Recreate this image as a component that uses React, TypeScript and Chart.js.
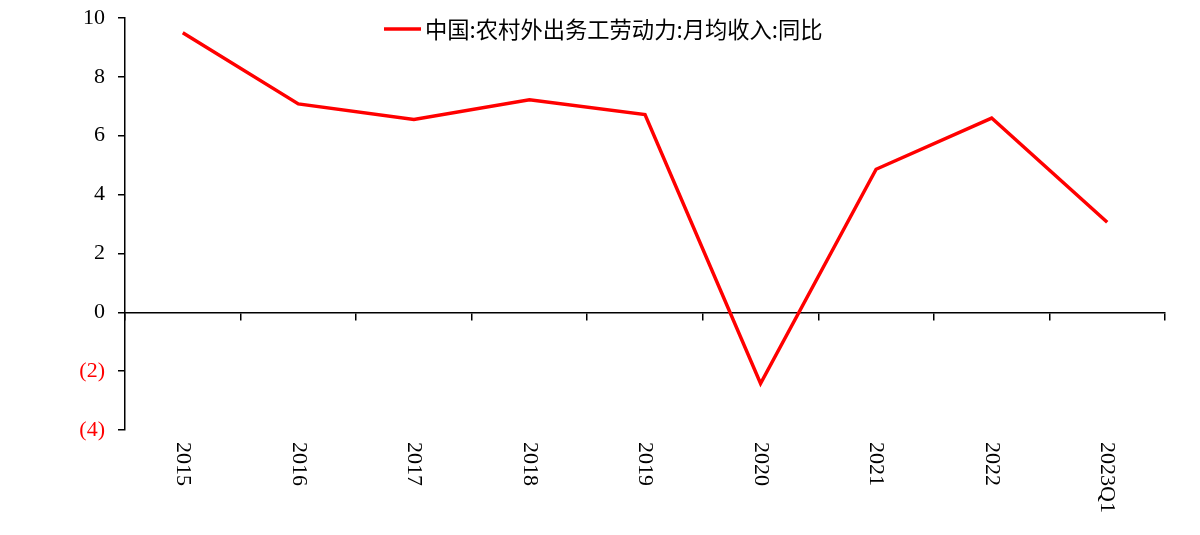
import { useEffect, useRef } from "react"
import { Chart, registerables } from "chart.js"

Chart.register(...registerables)

const categories = ["2015", "2016", "2017", "2018", "2019", "2020", "2021", "2022", "2023Q1"]
const incomeYoY = [9.5, 7.08, 6.55, 7.22, 6.72, -2.42, 4.86, 6.6, 3.06]
const seriesName = "中国:农村外出务工劳动力:月均收入:同比"

const serif = "'Liberation Serif', 'Times New Roman', serif"
const sans = "'Noto Sans CJK SC', 'Noto Sans', sans-serif"

// rotated category labels (read top-to-bottom) and the legend drawn inside the plot
const overlayPlugin = {
  id: "overlay",
  afterDraw(chart) {
    const { ctx, chartArea, scales } = chart
    const x = scales.x
    ctx.save()
    ctx.fillStyle = "#000"
    ctx.font = `22px ${serif}`
    ctx.textAlign = "left"
    ctx.textBaseline = "middle"
    categories.forEach((label, i) => {
      ctx.save()
      ctx.translate(x.getPixelForValue(i), chartArea.bottom + 12)
      ctx.rotate(Math.PI / 2)
      ctx.fillText(label, 0, 0)
      ctx.restore()
    })

    // legend
    const ly = 29
    ctx.strokeStyle = "#ff0000"
    ctx.lineWidth = 3.5
    ctx.beginPath()
    ctx.moveTo(384, ly)
    ctx.lineTo(421, ly)
    ctx.stroke()
    ctx.font = `22.3px ${sans}`
    ctx.fillStyle = "#000"
    ctx.fillText(seriesName, 425, ly + 1)
    ctx.restore()
  },
}

export default function App() {
  const chartRef = useRef(null)
  const chartInstance = useRef(null)

  useEffect(() => {
    if (chartRef.current) {
      if (chartInstance.current) {
        chartInstance.current.destroy()
      }

      const ctx = chartRef.current.getContext("2d")

      chartInstance.current = new Chart(ctx, {
        type: "line",
        data: {
          labels: categories,
          datasets: [
            {
              label: seriesName,
              data: incomeYoY,
              borderColor: "#ff0000",
              borderWidth: 3.5,
              pointRadius: 0,
              tension: 0,
              fill: false,
            },
          ],
        },
        options: {
          animation: false,
          responsive: true,
          maintainAspectRatio: false,
          layout: {
            padding: { left: 0, top: 18, right: 35, bottom: 105 },
          },
          plugins: {
            legend: { display: false },
            tooltip: { enabled: false },
          },
          scales: {
            x: {
              type: "category",
              position: { y: 0 },
              offset: true,
              grid: {
                offset: true,
                drawOnChartArea: false,
                drawTicks: true,
                tickLength: 7,
                color: "#000",
                lineWidth: 1.5,
              },
              border: { display: true, color: "#000", width: 1.5 },
              ticks: { display: false },
            },
            y: {
              min: -4,
              max: 10,
              afterFit: (scale) => {
                scale.width = 125
                scale.paddingTop = 0
                scale.paddingBottom = 0
              },
              grid: {
                drawOnChartArea: false,
                tickLength: 7,
                color: "#000",
                lineWidth: 1.5,
              },
              border: { display: true, color: "#000", width: 1.5 },
              ticks: {
                stepSize: 2,
                padding: 13,
                font: { family: serif, size: 22 },
                color: (c) => (c.tick.value < 0 ? "#ff0000" : "#000"),
                callback: (v) => (v < 0 ? `(${Math.abs(v)})` : `${v}`),
              },
            },
          },
        },
        plugins: [overlayPlugin],
      })
    }

    return () => {
      if (chartInstance.current) {
        chartInstance.current.destroy()
      }
    }
  }, [])

  return (
    <div style={{ position: "fixed", left: 0, top: 0, width: 1200, height: 535, background: "#fff" }}>
      <canvas ref={chartRef} />
    </div>
  )
}
